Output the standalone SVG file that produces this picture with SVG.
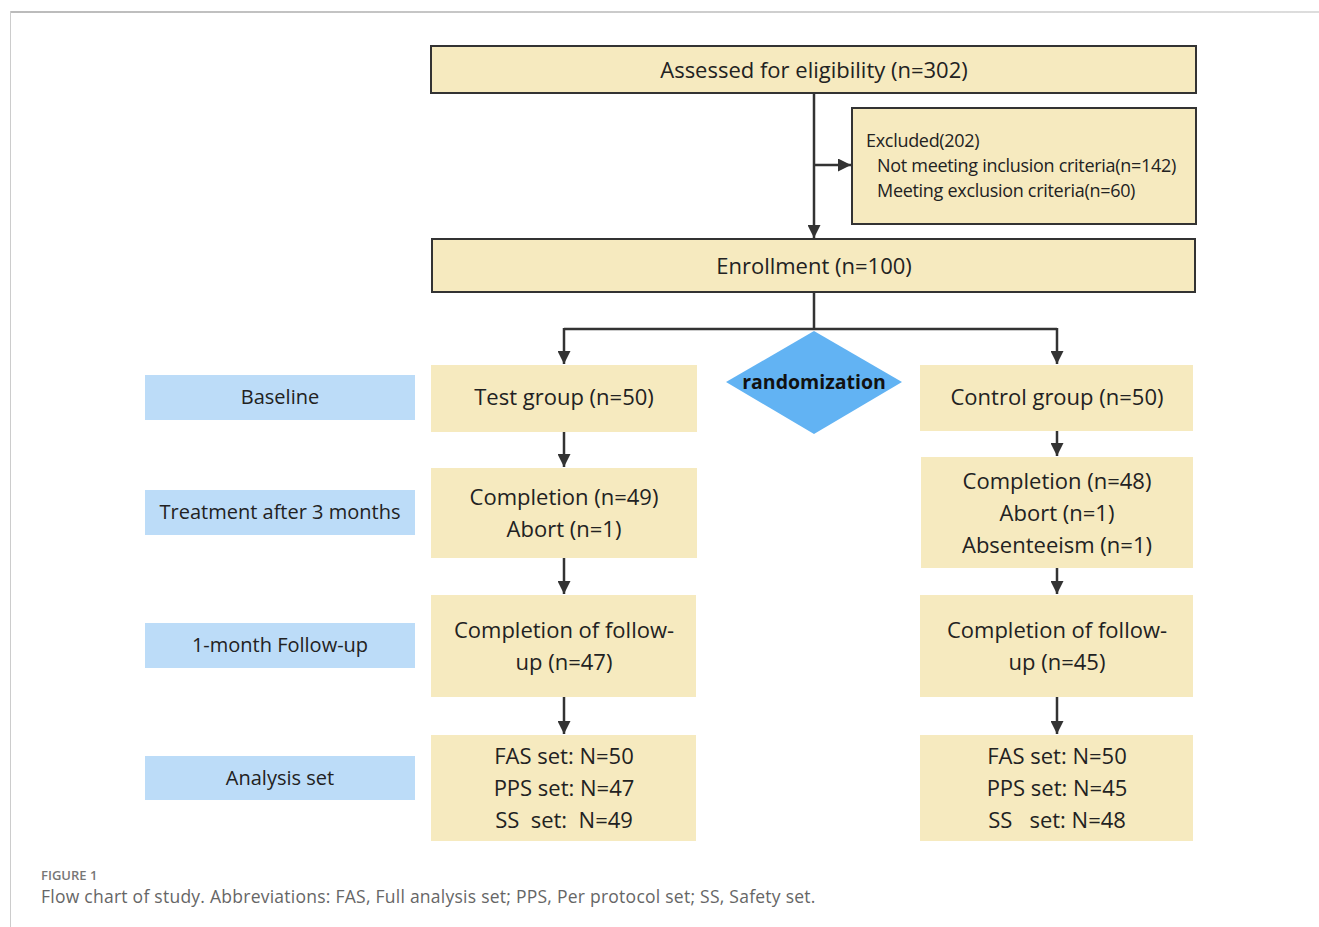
<svg xmlns="http://www.w3.org/2000/svg" width="1319" height="927" viewBox="0 0 1319 927">
<defs>
<marker id="ah" markerWidth="13" markerHeight="13" refX="13" refY="6.5" orient="auto" markerUnits="userSpaceOnUse"><path d="M0,0 L13,6.5 L0,13 z" fill="#333"/></marker>
<linearGradient id="tb" x1="0" x2="1" y1="0" y2="0"><stop offset="0" stop-color="#bbb"/><stop offset="1" stop-color="#ddd"/></linearGradient>
</defs>
<style>
.b{fill:#f6eabf}
.bs{fill:#f6eabf;stroke:#333;stroke-width:2}
.l{fill:#bcdcf8}
.t{font-family:"Open Sans","Noto Sans",sans-serif;font-size:22px;fill:#222;text-anchor:middle}
.lt{font-family:"Open Sans","Noto Sans",sans-serif;font-size:20px;fill:#222;text-anchor:middle}
.s{font-family:"Open Sans","Noto Sans",sans-serif;font-size:18px;fill:#222}
.c{fill:none;stroke:#333;stroke-width:2.5}
</style>
<rect width="1319" height="927" fill="#fff"/>
<rect x="10" y="11" width="1309" height="2" fill="url(#tb)"/>
<rect x="10" y="11" width="1" height="916" fill="#ccc"/>
<g id="assessed"><rect class="bs" x="431" y="46" width="765" height="47"/><text class="t" x="814" y="78">Assessed for eligibility (n=302)</text></g>
<g id="excluded"><rect class="bs" x="852" y="108" width="344" height="116"/><text class="s" x="866" y="147" letter-spacing="-0.3">Excluded(202)</text><text class="s" x="877" y="172" letter-spacing="-0.3">Not meeting inclusion criteria(n=142)</text><text class="s" x="877" y="197" letter-spacing="-0.3">Meeting exclusion criteria(n=60)</text></g>
<g id="enroll"><rect class="bs" x="432" y="239" width="763" height="53"/><text class="t" x="814" y="274">Enrollment (n=100)</text></g>
<g id="rand"><path d="M814,331 L902,382 L814,434 L726,382 z" fill="#62b3f3"/><text x="814" y="389" text-anchor="middle" font-family="'Open Sans','Noto Sans',sans-serif" font-weight="bold" font-size="19.5" fill="#111">randomization</text></g>
<g id="test"><rect class="b" x="431" y="365" width="266" height="67"/><text class="t" x="564" y="405">Test group (n=50)</text></g>
<g id="control"><rect class="b" x="920" y="365" width="273" height="66"/><text class="t" x="1057" y="405">Control group (n=50)</text></g>
<g id="comp-test"><rect class="b" x="431" y="468" width="266" height="90"/><text class="t" x="564" y="505">Completion (n=49)</text><text class="t" x="564" y="537">Abort (n=1)</text></g>
<g id="comp-control"><rect class="b" x="921" y="457" width="272" height="111"/><text class="t" x="1057" y="489">Completion (n=48)</text><text class="t" x="1057" y="521">Abort (n=1)</text><text class="t" x="1057" y="553">Absenteeism (n=1)</text></g>
<g id="fu-test"><rect class="b" x="431" y="595" width="265" height="102"/><text class="t" x="564" y="638">Completion of follow-</text><text class="t" x="564" y="670">up (n=47)</text></g>
<g id="fu-control"><rect class="b" x="920" y="595" width="273" height="102"/><text class="t" x="1057" y="638">Completion of follow-</text><text class="t" x="1057" y="670">up (n=45)</text></g>
<g id="an-test"><rect class="b" x="431" y="735" width="265" height="106"/><text class="t" x="564" y="764">FAS set: N=50</text><text class="t" x="564" y="796">PPS set: N=47</text><text class="t" x="564" y="828" xml:space="preserve">SS  set:  N=49</text></g>
<g id="an-control"><rect class="b" x="920" y="735" width="273" height="106"/><text class="t" x="1057" y="764">FAS set: N=50</text><text class="t" x="1057" y="796">PPS set: N=45</text><text class="t" x="1057" y="828" xml:space="preserve">SS   set: N=48</text></g>
<g id="lbl-baseline"><rect class="l" x="145" y="375" width="270" height="45"/><text class="lt" x="280" y="404">Baseline</text></g>
<g id="lbl-treat"><rect class="l" x="145" y="490" width="270" height="45"/><text class="lt" x="280" y="519">Treatment after 3 months</text></g>
<g id="lbl-fu"><rect class="l" x="145" y="623" width="270" height="45"/><text class="lt" x="280" y="652">1-month Follow-up</text></g>
<g id="lbl-an"><rect class="l" x="145" y="756" width="270" height="44"/><text class="lt" x="280" y="785">Analysis set</text></g>
<g id="connectors">
<path class="c" d="M814,93 V238" marker-end="url(#ah)"/>
<path class="c" d="M814,165 H851" marker-end="url(#ah)"/>
<path class="c" d="M814,292 V329 M564,329 H1057"/>
<path class="c" d="M564,328 V364" marker-end="url(#ah)"/>
<path class="c" d="M1057,328 V364" marker-end="url(#ah)"/>
<path class="c" d="M564,432 V467" marker-end="url(#ah)"/>
<path class="c" d="M1057,431 V456" marker-end="url(#ah)"/>
<path class="c" d="M564,558 V594" marker-end="url(#ah)"/>
<path class="c" d="M1057,568 V594" marker-end="url(#ah)"/>
<path class="c" d="M564,697 V734" marker-end="url(#ah)"/>
<path class="c" d="M1057,697 V734" marker-end="url(#ah)"/>
</g>
<text x="41" y="880" font-family="'Open Sans','Noto Sans',sans-serif" font-size="13" font-weight="600" fill="#777">FIGURE 1</text>
<text x="41" y="903" font-family="'Open Sans','Noto Sans',sans-serif" font-size="17.5" letter-spacing="0.25" fill="#666">Flow chart of study. Abbreviations: FAS, Full analysis set; PPS, Per protocol set; SS, Safety set.</text>
</svg>
